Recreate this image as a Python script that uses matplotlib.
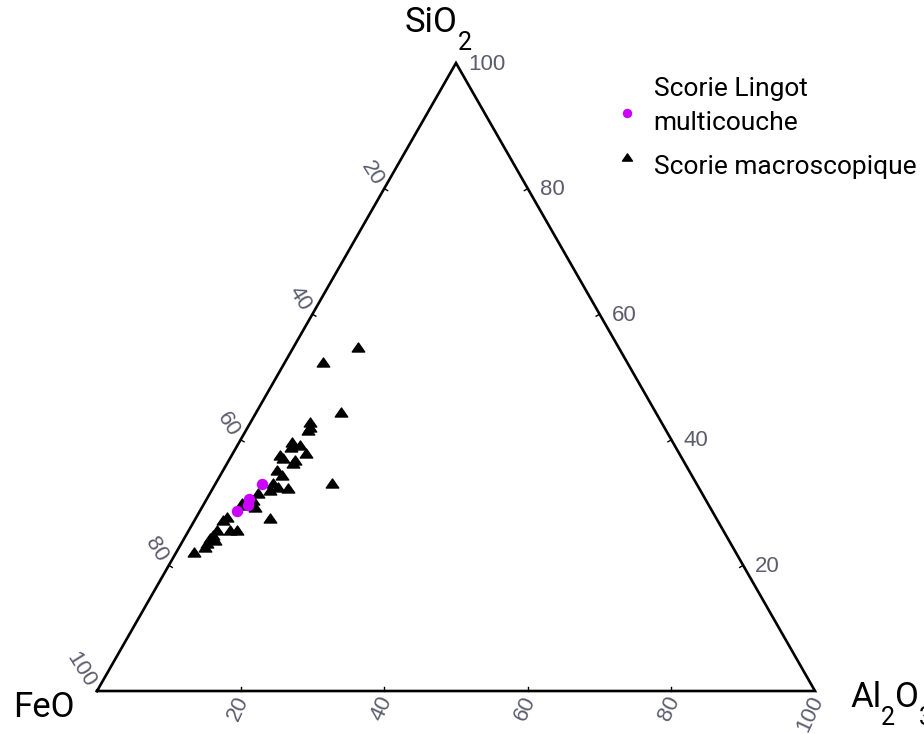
import matplotlib
matplotlib.use("Agg")
import matplotlib.pyplot as plt
from matplotlib.path import Path
from matplotlib.legend_handler import HandlerLine2D
import numpy as np

# ---- data (wt %) ----
macro_sio2 = [54.8, 52.4, 44.4, 42.8, 42.0, 41.6, 39.6, 38.9, 37.9, 37.6, 37.1, 36.8, 36.3,
              35.2, 34.4, 33.1, 32.5, 33.1, 32.3, 32.0, 31.5, 30.4, 29.6, 29.9, 29.3, 27.5,
              27.7, 27.2, 25.6, 25.6, 25.6, 24.8, 24.4, 23.6, 22.9, 22.1, 39.2, 24.0]
macro_al2o3 = [9.0, 5.3, 11.8, 8.3, 8.7, 8.6, 7.4, 7.5, 10.1, 6.7, 7.4, 9.2, 9.2,
               7.5, 8.6, 8.0, 9.0, 16.2, 10.5, 8.1, 6.7, 6.5, 6.1, 5.3, 7.4, 10.4,
               4.3, 4.0, 6.7, 5.7, 3.9, 3.8, 3.5, 3.5, 3.6, 2.4, 8.7, 4.4]
macro_feo = [36.2, 42.3, 43.8, 48.9, 49.3, 49.8, 53.0, 53.6, 52.0, 55.7, 55.5, 54.0, 54.5,
             57.3, 57.0, 58.9, 58.5, 50.7, 57.2, 59.9, 61.8, 63.1, 64.3, 64.8, 63.3, 62.1,
             68.0, 68.8, 67.7, 68.7, 70.5, 71.4, 72.1, 72.9, 73.5, 75.5, 52.1, 71.6]

lingot_sio2 = [33.0, 30.6, 29.6, 28.7]
lingot_al2o3 = [6.5, 5.9, 6.2, 5.15]
lingot_feo = [60.5, 63.5, 64.2, 66.15]

tick_values = [20, 40, 60, 80, 100]
tick_labels = ["20", "40", "60", "80", "100"]
legend_labels = ["Scorie Lingot\nmulticouche", "Scorie macroscopique"]
# formula pieces: (text, is_subscript)
label_sio2 = [("SiO", False), ("2", True)]
label_feo = [("FeO", False)]
label_al2o3 = [("Al", False), ("2", True), ("O", False), ("3", True)]

# ---- geometry ----
W, H = 924, 734
S = 718.0          # pixels for full triangle width
HT = 628.0 / 718.0  # triangle height relative to width


def tern(fe, al, si):
    fe = np.asarray(fe, float); al = np.asarray(al, float); si = np.asarray(si, float)
    tot = fe + al + si
    a = al / tot; s = si / tot
    return a + s / 2.0, s * HT


fig = plt.figure(figsize=(W / 100, H / 100), dpi=100)
ax = fig.add_axes([0, 0, 1, 1])
ax.set_xlim(-97 / S, (W - 97) / S)
ax.set_ylim(-(H - 691) / S, 691 / S)
ax.axis("off")

# triangle
vx, vy = tern([100, 0, 0, 100], [0, 100, 0, 0], [0, 0, 100, 0])
ax.plot(vx, vy, color="black", lw=1.9, solid_joinstyle="miter", zorder=2)

tick_color = "#5c5c6e"
tfont = dict(family="Liberation Sans", fontsize=16, color=tick_color)
tick_len = 4 / S

for v, lab in zip(tick_values, tick_labels):
    # right edge: SiO2
    x, y = tern(0, 100 - v, v)
    ax.annotate(lab, (x, y), xytext=(12, -1), textcoords="offset pixels",
                ha="left", va="center", **tfont)
    if v < 100:
        ax.plot([x, x - tick_len * 0.87], [y, y - tick_len * 0.5], color="black", lw=1)
    # left edge: FeO
    x, y = tern(v, 0, 100 - v)
    ax.annotate(lab, (x, y), xytext=(-6, 5), textcoords="offset pixels",
                ha="right", va="center", rotation=-58, rotation_mode="anchor", **tfont)
    if v < 100:
        ax.plot([x, x + tick_len * 0.87], [y, y - tick_len * 0.5], color="black", lw=1)
    # bottom edge: Al2O3
    x, y = tern(100 - v, v, 0)
    ax.annotate(lab, (x, y), xytext=(3, -6), textcoords="offset pixels",
                ha="right", va="center", rotation=65, rotation_mode="anchor", **tfont)
    if v < 100:
        ax.plot([x, x], [y, y + tick_len], color="black", lw=1)

# corner labels drawn piece by piece (subscripts hang below the baseline)
fig.canvas.draw()
renderer = fig.canvas.get_renderer()
MAIN_SIZE, SUB_SIZE, SUB_DROP = 25, 18, 18


def formula(pieces, vertex, dx, dy_base):
    px, py = ax.transData.transform(vertex)   # display pixels, y up
    cx = px + dx
    base = py + dy_base
    for txt, sub in pieces:
        t = fig.text(cx / W, (base - (SUB_DROP if sub else 0)) / H, txt,
                     family="Roboto", fontsize=SUB_SIZE if sub else MAIN_SIZE,
                     color="black", ha="left", va="baseline")
        cx += t.get_window_extent(renderer).width


formula(label_sio2, (vx[2], vy[2]), -51, 31)
formula(label_feo, (vx[0], vy[0]), -84, -26)
formula(label_al2o3, (vx[1], vy[1]), 35, -16)

# markers
tri = Path([(0, 0.72), (-1, -0.72), (1, -0.72), (0, 0.72)],
           [Path.MOVETO, Path.LINETO, Path.LINETO, Path.CLOSEPOLY])
mx, my = tern(macro_feo, macro_al2o3, macro_sio2)
h2, = ax.plot(mx, my, linestyle="none", marker=tri, ms=9, color="black", zorder=3)
lx, ly = tern(lingot_feo, lingot_al2o3, lingot_sio2)
h1, = ax.plot(lx, ly, linestyle="none", marker="o", ms=7.2, color="#CC00FF",
              markeredgecolor="#CC00FF", zorder=4)


class ShiftHandler(HandlerLine2D):
    def __init__(self, dy, **kw):
        super().__init__(**kw)
        self.dy = dy

    def create_artists(self, legend, orig_handle, xdescent, ydescent, width, height,
                       fontsize, trans):
        arts = super().create_artists(legend, orig_handle, xdescent, ydescent, width,
                                      height, fontsize, trans)
        for a in arts:
            a.set_ydata(np.asarray(a.get_ydata(), float) + self.dy)
        return arts


leg = ax.legend([h1, h2], legend_labels, loc="upper left",
                bbox_to_anchor=(614 / W, 1 - 77 / H), bbox_transform=fig.transFigure,
                frameon=False, borderpad=0, borderaxespad=0, handlelength=1.0,
                handletextpad=0.5, labelspacing=0.75, markerscale=0.8,
                prop=dict(family="Roboto", size=19),
                handler_map={h1: ShiftHandler(-5.0), h2: ShiftHandler(5.5)})
for t in leg.get_texts():
    t.set_linespacing(1.55)

fig.savefig("out.png", dpi=100)
